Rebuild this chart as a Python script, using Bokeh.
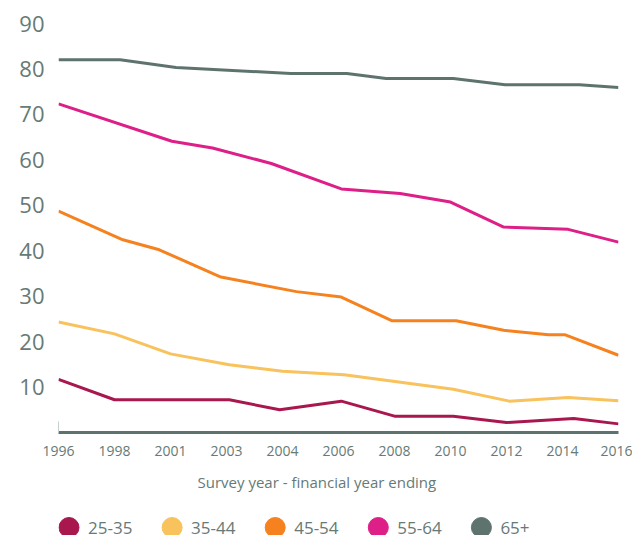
from bokeh.plotting import figure
from bokeh.layouts import column
from bokeh.models import FixedTicker, LinearAxis, Title, Range1d
from bokeh.core.properties import value
from bokeh.embed import file_html
from bokeh.resources import INLINE

# ---- data ----
tick_years = [1996, 1998, 2000, 2002, 2004, 2006, 2008, 2010, 2012, 2014, 2016]
tick_labels = ["1996", "1998", "2001", "2003", "2004", "2006", "2008", "2010", "2012", "2014", "2016"]
y_ticks = [10, 20, 30, 40, 50, 60, 70, 80, 90]

names = ["25-35", "35-44", "45-54", "55-64", "65+"]
colors = ["#a8184f", "#f8c25c", "#f5821f", "#dd1f87", "#5f736e"]

x_25_35 = [1996.0, 1998.0, 2002.1, 2003.9, 2006.1, 2008.0, 2010.1, 2012.0, 2014.4, 2016.0]
y_25_35 = [11.7, 7.2, 7.2, 5.0, 6.9, 3.6, 3.6, 2.2, 3.1, 1.9]

x_35_44 = [1996.0, 1998.0, 2000.0, 2002.1, 2004.0, 2006.2, 2010.1, 2012.1, 2014.2, 2016.0]
y_35_44 = [24.3, 21.7, 17.3, 14.9, 13.5, 12.7, 9.5, 6.9, 7.7, 7.0]

x_45_54 = [1996.0, 1998.3, 1999.6, 2001.8, 2004.5, 2006.1, 2007.9, 2010.2, 2011.9, 2013.5, 2014.1, 2016.0]
y_45_54 = [48.7, 42.4, 40.2, 34.2, 31.0, 29.8, 24.6, 24.6, 22.5, 21.5, 21.5, 17.0]

x_55_64 = [1996.0, 2000.05, 2001.5, 2003.6, 2006.1, 2008.2, 2010.0, 2011.9, 2014.2, 2016.0]
y_55_64 = [72.3, 64.1, 62.6, 59.2, 53.6, 52.6, 50.7, 45.2, 44.7, 41.9]

x_65p = [1996.0, 1998.2, 2000.2, 2004.3, 2006.3, 2007.7, 2010.1, 2011.95, 2014.6, 2016.0]
y_65p = [82.0, 82.0, 80.3, 79.0, 79.0, 77.9, 77.9, 76.5, 76.5, 75.9]

xs = [x_25_35, x_35_44, x_45_54, x_55_64, x_65p]
ys = [y_25_35, y_35_44, y_45_54, y_55_64, y_65p]

# ---- styling / layout constants ----
FONT = "Open Sans"
TEXT = "#667a76"
AXIS = "#5f736e"
FRAME_L, FRAME_R = 58, 618   # plot frame edges in page px (legend strip is aligned to it)
LEG_X0 = 68.5      # legend strip: first swatch centre (page px)
LEG_PITCH = 103.1  # legend strip: distance between items (px)
LEG_GAP = 19       # legend strip: swatch centre to label start (px)
LEG_H = 60
LEG_Y = 38         # swatch row, px from the strip's bottom

p = figure(width=632, height=505, output_backend="svg", toolbar_location=None,
           x_range=Range1d(1996, 2016), y_range=Range1d(0, 90),
           min_border_left=FRAME_L, min_border_right=632 - FRAME_R, min_border_top=23,
           min_border_bottom=73)
p.outline_line_color = None
p.grid.visible = False
p.background_fill_color = "white"
p.border_fill_color = "white"

# y axis
ya = p.yaxis[0]
ya.ticker = FixedTicker(ticks=y_ticks)
ya.axis_line_color = None
ya.major_tick_line_color = None
ya.minor_tick_line_color = None
ya.major_tick_out = 0
ya.major_tick_in = 0
ya.major_label_standoff = 14
ya.major_label_text_font = FONT
ya.major_label_text_font_size = "22px"
ya.major_label_text_color = TEXT

# short stub of the y axis line at the bottom left
stub = LinearAxis(bounds=(0, 2.4), ticker=FixedTicker(ticks=[]), axis_line_color="#c5cfcc",
                  axis_line_width=1, major_tick_line_color=None, minor_tick_line_color=None,
                  major_label_standoff=0, axis_label_standoff=0, major_tick_out=0, major_tick_in=0,
                  major_label_text_font_size="0px")
p.left = [stub] + list(p.left)

# x axis
xa = p.xaxis[0]
xa.ticker = FixedTicker(ticks=tick_years)
xa.major_label_overrides = {y: l for y, l in zip(tick_years, tick_labels)}
xa.axis_line_color = AXIS
xa.axis_line_width = 3
xa.major_tick_line_color = None
xa.minor_tick_line_color = None
xa.major_tick_out = 0
xa.major_tick_in = 0
xa.major_label_standoff = 13
xa.major_label_text_font = FONT
xa.major_label_text_font_size = "14px"
xa.major_label_text_color = TEXT

for x, y, c in zip(xs, ys, colors):
    p.line(x, y, line_color=c, line_width=3, line_join="round")

xtitle = Title(text="Survey year - financial year ending", align="left", offset=139,
               text_font=FONT, text_font_size="15px", text_font_style="normal",
               text_color=TEXT, standoff=22)
p.add_layout(xtitle, "below")

# ---- legend strip underneath (ranges in page pixels; frame aligned with the plot's) ----
p2 = figure(width=632, height=LEG_H, output_backend="svg", toolbar_location=None,
            x_range=Range1d(FRAME_L, FRAME_R), y_range=Range1d(0, LEG_H),
            x_axis_location=None, y_axis_location=None,
            min_border_left=FRAME_L, min_border_right=632 - FRAME_R,
            min_border_top=0, min_border_bottom=0)
p2.outline_line_color = None
p2.grid.visible = False
p2.border_fill_color = "white"
p2.background_fill_color = "white"

sw_x = [LEG_X0 + i * LEG_PITCH for i in range(len(names))]
sw_y = [LEG_Y] * len(names)
p2.scatter(x=sw_x, y=sw_y, marker="circle", size=20, fill_color=colors, line_color=colors)
p2.text(x=[sx + LEG_GAP for sx in sw_x], y=sw_y, text=names,
        text_baseline="middle", text_align="left",
        text_font=value(FONT), text_font_size="17px", text_color=TEXT)

open("out.html", "w").write(file_html(column(p, p2, spacing=0), INLINE))
